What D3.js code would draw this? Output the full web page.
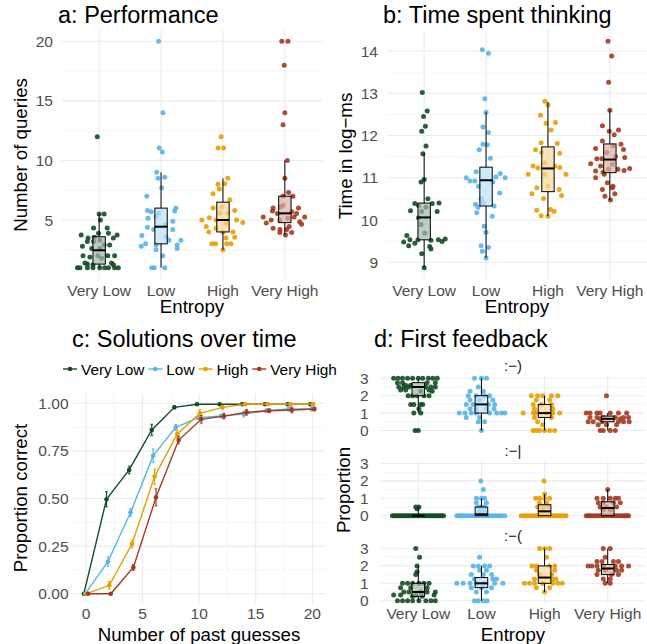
<!DOCTYPE html>
<html><head><meta charset="utf-8">
<script src="https://cdn.jsdelivr.net/npm/d3@7"></script>
<style>
body{margin:0;background:#fff}
text{font-family:"Liberation Sans",Arial,Helvetica,sans-serif}
</style>
</head><body>
<svg id="chart" width="647" height="644"></svg>
<script>
// ---------------- DATA ----------------
const categories = ["Very Low", "Low", "High", "Very High"];
const palette = ["#134D26", "#56B4E9", "#E69F00", "#A33A1F"];

// Panel a: number of queries  [value, jitter (category units)]
const queriesVeryLow = [[12,-0.03],[5.5,0],[5.5,0.08],[5,0.02],[4.33,-0.09],[4.33,0.13],[3.75,-0.29],[3.9,-0.01],[3.9,0.15],[3.5,0.23],[3.75,0.29],[3.5,-0.18],[3.55,-0.08],[3.2,-0.19],[3.2,-0.09],[3.3,0.01],[2.9,0.08],[2.9,0.17],[2.8,-0.27],[2.6,-0.12],[2.6,0.01],[2,-0.26],[2,-0.02],[2,0.14],[2,0.25],[1.9,-0.15],[1.8,0.04],[1.3,-0.19],[1.25,-0.1],[1.25,0.23],[1,-0.35],[1,-0.31],[1,-0.19],[1,-0.1],[1,0.01],[1,0.09],[1,0.15],[1,0.25],[1,0.31],[1.4,-0.23],[1.4,0.2]];
const queriesLow = [[20,-0.04],[14,0.03],[11.05,-0.03],[10.7,0.02],[9,-0.07],[8.6,0.06],[8.5,-0.05],[7.7,0.01],[7,-0.23],[5.7,-0.16],[5.6,-0.04],[5.75,0.22],[6,0.24],[5.15,-0.21],[5.3,-0.08],[4.4,-0.22],[4.2,-0.12],[4.6,0.07],[4.2,0.19],[3.7,-0.31],[3.3,0.13],[3.3,0.32],[2.9,-0.08],[3,-0.25],[2.8,-0.32],[2.9,0.26],[2.6,0.26],[2.5,-0.08],[2,0.03],[1,-0.15],[1,-0.11],[1,0.06],[4.9,0.19],[5.8,-0.22],[3.6,0.08]];
const queriesHigh = [[12,-0.03],[11.05,-0.08],[11.05,0.01],[8.5,0.08],[8.05,0.03],[8,-0.08],[7.6,-0.06],[7.2,-0.16],[6.7,0.11],[6,-0.16],[6.1,-0.02],[5.8,0.19],[5.6,-0.05],[5.6,0.08],[5,-0.34],[5.2,-0.22],[5,-0.11],[5,0.22],[4.8,0.32],[4.7,0.05],[4,-0.23],[4.3,-0.11],[4,0],[4,0.16],[4.45,-0.27],[3.5,0.05],[3.55,0.19],[3,-0.18],[3,-0.12],[3,0.06],[3,0.13],[2.5,0]];
const queriesVeryHigh = [[20,-0.05],[20,0.05],[18,-0.01],[14,0],[13,-0.03],[10,0.04],[8.5,0],[7,-0.03],[7.3,0.06],[7,0.13],[6,-0.19],[6.1,-0.07],[6,0.22],[5.25,-0.35],[5.75,-0.2],[5.55,-0.12],[5.7,0.11],[5.25,0.15],[5.25,0.32],[4.75,-0.3],[5,-0.22],[5,-0.08],[5.15,0.05],[4.85,0.24],[4.65,0.27],[4.3,-0.19],[4.2,-0.08],[4.2,0.03],[4.45,0.07],[3.95,-0.08],[3.95,0.11],[3.75,0.01],[5.55,0.19],[6.25,-0.03]];
// [lower whisker, q1, median, q3, upper whisker]
const queriesBoxes = [[1,1.3,2.46,3.6,5.5],[1,3,4.44,6,9],[2.5,4,5,6.5,8.5],[3.75,4.78,5.56,7,10]];

// Panel b: time in log-ms
const timeVeryLow = [[13.02,-0.03],[12.58,0.05],[12.45,-0.01],[12.22,0.02],[12.1,-0.04],[11.75,0.03],[11.57,-0.02],[10.96,0],[10.9,-0.05],[10.39,-0.15],[10.34,-0.09],[10.39,0.13],[10.4,0.24],[10.22,-0.22],[10.2,-0.04],[10.2,0.21],[10.05,-0.09],[9.89,-0.05],[9.69,0.01],[9.63,-0.28],[9.53,-0.23],[9.53,-0.1],[9.48,-0.33],[9.39,-0.25],[9.45,-0.15],[9.52,0.11],[9.53,0.23],[9.49,0.29],[9.55,0.34],[9.37,0.09],[9.31,0.11],[9.2,-0.04],[8.87,0],[10.5,0.06],[10.3,0.03]];
const timeLow = [[14.03,-0.06],[13.95,0.04],[12.87,-0.02],[12.55,0],[12.2,-0.05],[12.07,0.04],[11.79,-0.05],[11.78,0.02],[11.66,-0.11],[11.46,0.07],[11,-0.32],[10.92,-0.26],[11.14,-0.16],[10.8,-0.12],[10.92,-0.18],[11.1,0.23],[11.02,0.16],[11,0.31],[10.9,0.11],[10.5,-0.08],[10.4,-0.05],[10.37,-0.17],[10.3,-0.13],[10.33,0.13],[10.09,0.1],[10.64,0.22],[10.17,-0.15],[9.85,-0.03],[9.71,0],[9.39,-0.08],[9.35,0.04],[9.26,-0.06],[9.1,0]];
const timeHigh = [[12.81,-0.05],[12.72,0],[12.48,-0.12],[12.29,-0.03],[12.31,0.12],[12.13,0.05],[11.83,-0.11],[11.81,0.15],[11.66,-0.2],[11.58,0.19],[11.6,-0.1],[11.28,-0.24],[11.23,-0.16],[11.35,-0.05],[11.28,0.11],[11.24,0.19],[11.08,-0.32],[11.08,-0.05],[11.08,0.29],[10.76,-0.18],[10.8,0],[10.62,-0.26],[10.72,0.18],[10.58,0.22],[10.51,-0.07],[10.23,-0.18],[10.25,0.04],[10.2,0.1],[10.1,-0.11],[10.09,0]];
const timeVeryHigh = [[14.23,-0.03],[13.88,0.03],[13.26,-0.02],[12.6,0],[12.23,-0.12],[12.1,-0.01],[12.13,0.14],[12.02,0.07],[11.87,-0.12],[11.69,-0.23],[11.75,0.05],[11.79,0.18],[11.67,0.22],[11.6,-0.05],[11.5,0.09],[11.45,-0.21],[11.45,-0.13],[11.48,0.24],[11.33,-0.31],[11.28,-0.15],[11.32,0.04],[11.16,-0.23],[11.13,-0.11],[11.2,-0.02],[11.2,0.13],[11.17,0.23],[11.22,0.32],[11,-0.23],[11.08,-0.09],[10.88,-0.04],[10.8,0.05],[10.72,-0.12],[10.76,0.04],[10.56,-0.08],[10.62,0.08],[10.47,0.01]];
const timeBoxes = [[8.87,9.53,10.06,10.4,11.57],[9.1,10.33,10.94,11.25,12.55],[10.09,10.67,11.22,11.73,12.79],[10.47,11.12,11.43,11.8,12.6]];

// Panel c: proportion correct by number of past guesses
const guesses = [0,2,4,6,8,10,12,14,16,18,20];
const solvedVeryLow  = [0,0.496,0.65,0.86,0.979,0.995,0.995,0.995,0.995,0.995,0.995];
const solvedLow      = [0,0.168,0.426,0.725,0.874,0.925,0.933,0.944,0.961,0.97,0.97];
const solvedHigh     = [0,0.044,0.261,0.615,0.839,0.947,0.979,0.995,0.995,0.995,0.995];
const solvedVeryHigh = [0,0,0.138,0.506,0.807,0.916,0.933,0.953,0.961,0.965,0.97];
const seVeryLow  = [0,0.04,0.02,0.03,0.008,0.004,0.004,0.004,0.004,0.004,0.004];
const seLow      = [0,0.025,0.02,0.035,0.015,0.01,0.01,0.015,0.01,0.01,0.01];
const seHigh     = [0,0.02,0.02,0.04,0.02,0.02,0.01,0.005,0.005,0.005,0.005];
const seVeryHigh = [0,0,0.015,0.045,0.02,0.02,0.015,0.015,0.01,0.015,0.01];

// Panel d: first feedback  [value, [jitters]]
const facetLabels = [":\u2212)", ":\u2212|", ":\u2212("];
const happyVeryLow = [[3,[-0.39,-0.32,-0.25,-0.17,-0.09,0,0.07,0.16,0.23,0.3]],[2.75,[-0.33,-0.25,0.14,0.27]],[2.6,[-0.2,-0.12]],[2.5,[-0.31,-0.23,-0.15,0.12,0.2,0.27]],[2.33,[-0.28,-0.2,0.17]],[2.25,[0.04,0.22]],[2,[-0.16,-0.09,-0.02,0.09,0.17]],[1.5,[-0.12,-0.07,0.04,0.07]],[1.25,[0.01]],[1,[-0.07,0.04]],[0,[-0.05,0]]];
const happyLow = [[3,[-0.11,0,0.08]],[2.5,[-0.05]],[2.25,[-0.18,0.03]],[2,[-0.21,-0.08,0.05,0.13]],[1.75,[-0.18,-0.03,0.18]],[1.5,[-0.24,-0.13,0.11,0.21]],[1.25,[-0.18,-0.08,0.08,0.2]],[1,[-0.35,-0.26,-0.16,-0.08,0.13,0.24,0.32,0.37]],[0.75,[-0.24,-0.03]],[0.5,[-0.05,0.05]],[0,[0]]];
const happyHigh = [[2,[-0.21,-0.11,-0.03,0.11,0.21]],[1.75,[-0.13,0.08]],[1.5,[-0.18,-0.05,0.11]],[1.25,[-0.16,0.13]],[1,[-0.34,-0.18,-0.13,0.03,0.13,0.24]],[0.75,[-0.16,0.11]],[0.5,[-0.11]],[0.33,[-0.03]],[0,[-0.18,-0.13,-0.08,0,0.08,0.16]]];
const happyVeryHigh = [[2,[-0.02]],[1,[-0.34,-0.28,-0.17,-0.12,0.04,0.17,0.3]],[0.75,[-0.28,-0.17,-0.07,0.12,0.25,0.33]],[0.67,[-0.12,0.2]],[0.5,[-0.31,-0.23,-0.09,0.17,0.25,0.34]],[0.33,[-0.15,-0.02,0.14]],[0,[-0.12,-0.07,0.04,0.12]]];
const neutralVeryLow = [[0.5,[-0.04,0.01]],[0.4,[-0.02]],[0,[-0.41,-0.38,-0.35,-0.32,-0.29,-0.26,-0.23,-0.2,-0.17,-0.14,-0.11,-0.08,-0.05,-0.02,0.01,0.04,0.07,0.1,0.13,0.16,0.19,0.22,0.25,0.28,0.31,0.34,0.37,0.4]]];
const neutralLow = [[2,[-0.01]],[1.5,[0.03]],[1,[-0.08,0,0.05]],[0.75,[-0.08,0.08]],[0.5,[-0.05,0,0.05]],[0.25,[-0.03,0.05]],[0,[-0.39,-0.35,-0.32,-0.28,-0.24,-0.2,-0.16,-0.12,-0.08,-0.04,0,0.04,0.08,0.12,0.16,0.2,0.24,0.28,0.32,0.37]]];
const neutralHigh = [[2,[-0.01]],[1.25,[0]],[1,[-0.14,-0.08,0,0.08]],[0.75,[-0.08,0.03]],[0.5,[-0.11,-0.03,0.05]],[0.33,[-0.03]],[0,[-0.37,-0.33,-0.29,-0.25,-0.21,-0.17,-0.13,-0.09,-0.05,-0.01,0.03,0.07,0.11,0.15,0.18,0.22,0.26,0.3,0.34]]];
const neutralVeryHigh = [[1.5,[0]],[1,[-0.17,-0.07,0.04,0.12,0.17]],[0.75,[-0.15,-0.07,0.09,0.2]],[0.5,[-0.12,-0.02,0.14]],[0.33,[-0.07,0.04]],[0,[-0.34,-0.31,-0.28,-0.24,-0.2,-0.16,-0.12,-0.08,-0.04,0,0.04,0.08,0.12,0.16,0.2,0.24,0.27,0.3,0.33]]];
const sadVeryLow = [[3,[-0.04]],[2.5,[0.02]],[2,[-0.02]],[1.67,[-0.02]],[1.5,[-0.04]],[1,[-0.25,-0.17,-0.09,0.01,0.09,0.17]],[0.75,[-0.28,-0.12,0.14]],[0.5,[-0.23,-0.15,0.04,0.14,0.27]],[0.33,[-0.39,-0.28,-0.04,0.25]],[0.25,[-0.09,0.06]],[0,[-0.33,-0.25,-0.17,-0.09,0.01,0.12,0.2,0.27]]];
const sadLow = [[2.5,[-0.03]],[2,[-0.13,-0.05,0.05,0.13]],[1.75,[-0.03,0.08]],[1.5,[-0.16,0.03,0.16]],[1.25,[-0.11,0.18,0.24]],[1,[-0.39,-0.29,-0.18,-0.08,0.05,0.21,0.34]],[0.75,[-0.16,0,0.16]],[0.5,[-0.08,0.08]],[0,[-0.11,-0.05,0.03,0.09]]];
const sadHigh = [[3,[-0.08,0,0.08]],[2.5,[0.03]],[2,[-0.2,-0.13,0.08,0.16]],[1.75,[-0.13,0.16]],[1.5,[-0.08,0.11]],[1.25,[-0.16,0.13,0.18]],[1,[-0.32,-0.24,-0.16,-0.03,0.13,0.21,0.28]],[0.75,[-0.13,0.08]],[0.5,[0]]];
const sadVeryHigh = [[3,[-0.07,0.04]],[2.5,[-0.04]],[2.25,[-0.17,-0.09,0.09,0.17]],[2,[-0.31,-0.25,-0.17,-0.07,0.12,0.22,0.33]],[1.75,[-0.15,-0.04,0.14,0.22]],[1.5,[-0.17,0.06,0.17]],[1.25,[-0.07,0.04]],[1,[-0.04,0.04]]];
const happyBoxes   = [[1,2,2.5,2.75,3],[0,1,1.5,2,3],[0,0.75,1,1.5,2],[0,0.5,0.67,0.83,1]];
const neutralBoxes = [[0,0,0,0,0.5],[0,0,0.08,0.5,1],[0,0,0.25,0.63,1.25],[0,0,0.44,0.8,1.5]];
const sadBoxes     = [[0,0.25,0.5,1,2],[0,0.75,1,1.33,2],[0.5,1,1.33,2,3],[1,1.5,1.85,2.08,3]];

// ---------------- DRAWING ----------------
const svg = d3.select("#chart");
const TICK_COL = "#4D4D4D";
const TICK_FS = 15.5, AXIS_FS = 18.7, TITLE_FS = 23.5;
const flatLevels = levels => levels.flatMap(([v, js]) => js.map(j => [v, j]));

function hGrid(g, y, left, right, major, minor) {
  g.selectAll(null).data(minor).join("line")
    .attr("x1", left).attr("x2", right).attr("y1", d => y(d)).attr("y2", d => y(d))
    .attr("stroke", "#F1F1F1").attr("stroke-width", 0.7);
  g.selectAll(null).data(major).join("line")
    .attr("x1", left).attr("x2", right).attr("y1", d => y(d)).attr("y2", d => y(d))
    .attr("stroke", "#EBEBEB").attr("stroke-width", 1.1);
}
function vGrid(g, xs, top, bottom, col, w) {
  g.selectAll(null).data(xs).join("line")
    .attr("x1", d => d).attr("x2", d => d).attr("y1", top).attr("y2", bottom)
    .attr("stroke", col).attr("stroke-width", w);
}
function yLabels(g, y, ticks, xRight, fmt) {
  g.selectAll(null).data(ticks).join("text")
    .attr("x", xRight).attr("y", d => y(d)).attr("dy", "0.36em")
    .attr("text-anchor", "end").attr("font-size", TICK_FS).attr("fill", TICK_COL)
    .text(fmt);
}
function title(txt, x, y) {
  svg.append("text").attr("x", x).attr("y", y).attr("font-size", TITLE_FS).attr("fill", "#000").text(txt);
}
function axisTitleX(txt, x, y) {
  svg.append("text").attr("x", x).attr("y", y).attr("text-anchor", "middle").attr("font-size", AXIS_FS).text(txt);
}
function axisTitleY(txt, x, y) {
  svg.append("text").attr("transform", `translate(${x},${y}) rotate(-90)`)
    .attr("text-anchor", "middle").attr("font-size", AXIS_FS).text(txt);
}

function categoryPanel(o) {
  const g = svg.append("g");
  const x = d3.scalePoint().domain(categories).range([o.left, o.right]).padding(0.6);
  const y = d3.scaleLinear().domain(o.yDomain).range([o.bottom, o.top]);
  hGrid(g, y, o.left, o.right, o.yTicks, o.yMinor);
  vGrid(g, categories.map(c => x(c)), o.top, o.bottom, "#EBEBEB", 1.1);
  yLabels(g, y, o.yTicks, o.yLabelX, o.fmt);
  if (o.xLabels) {
    g.selectAll(null).data(categories).join("text")
      .attr("x", d => x(d)).attr("y", o.bottom + o.xLabelGap).attr("text-anchor", "middle")
      .attr("font-size", TICK_FS).attr("fill", TICK_COL).text(d => d);
  }
  const step = x.step();
  categories.forEach((c, i) => {
    g.append("g").selectAll("circle").data(o.points[i]).join("circle")
      .attr("cx", d => x(c) + d[1] * step).attr("cy", d => y(d[0])).attr("r", 2.5)
      .attr("fill", palette[i]).attr("fill-opacity", 0.9);
  });
  const bw = 0.2 * step;
  categories.forEach((c, i) => {
    const [lo, q1, med, q3, hi] = o.boxes[i];
    const cx = x(c);
    const bg = g.append("g");
    bg.append("line").attr("x1", cx).attr("x2", cx).attr("y1", y(hi)).attr("y2", y(q3)).attr("stroke", "#000").attr("stroke-width", 1);
    bg.append("line").attr("x1", cx).attr("x2", cx).attr("y1", y(q1)).attr("y2", y(lo)).attr("stroke", "#000").attr("stroke-width", 1);
    bg.append("rect").attr("x", cx - bw / 2).attr("width", bw)
      .attr("y", y(q3)).attr("height", Math.max(0, y(q1) - y(q3)))
      .attr("fill", d3.interpolateRgb(palette[i], "#ffffff")(0.6)).attr("fill-opacity", 0.7)
      .attr("stroke", "#000").attr("stroke-width", 1);
    bg.append("line").attr("x1", cx - bw / 2).attr("x2", cx + bw / 2).attr("y1", y(med)).attr("y2", y(med))
      .attr("stroke", "#000").attr("stroke-width", 2);
  });
  return { x, y };
}

// ---- Panel a ----
title("a: Performance", 58, 23);
categoryPanel({
  left: 62, right: 322, top: 30, bottom: 279,
  yDomain: [0.05, 20.95], yTicks: [5, 10, 15, 20], yMinor: [2.5, 7.5, 12.5, 17.5],
  yLabelX: 53, fmt: d => d, xLabels: true, xLabelGap: 17,
  points: [queriesVeryLow, queriesLow, queriesHigh, queriesVeryHigh],
  boxes: queriesBoxes
});
axisTitleY("Number of queries", 27, 155);
axisTitleX("Entropy", 192, 313);

// ---- Panel b ----
title("b: Time spent thinking", 383, 23);
categoryPanel({
  left: 387, right: 647, top: 30, bottom: 279,
  yDomain: [8.602, 14.498], yTicks: [9, 10, 11, 12, 13, 14], yMinor: [9.5, 10.5, 11.5, 12.5, 13.5],
  yLabelX: 378, fmt: d => d, xLabels: true, xLabelGap: 17,
  points: [timeVeryLow, timeLow, timeHigh, timeVeryHigh],
  boxes: timeBoxes
});
axisTitleY("Time in log\u2212ms", 352, 156);
axisTitleX("Entropy", 517, 313);

// ---- Panel c ----
title("c: Solutions over time", 72, 347);
(function () {
  const left = 72.4, right = 325.9, top = 393.8, bottom = 603.2;
  const g = svg.append("g");
  const x = d3.scaleLinear().domain([-1.2, 21.2]).range([left, right]);
  const y = d3.scaleLinear().domain([-0.05, 1.05]).range([bottom, top]);
  hGrid(g, y, left, right, [0, 0.25, 0.5, 0.75, 1], [0.125, 0.375, 0.625, 0.875]);
  vGrid(g, [2.5, 7.5, 12.5, 17.5].map(x), top, bottom, "#F1F1F1", 0.7);
  vGrid(g, [0, 5, 10, 15, 20].map(x), top, bottom, "#EBEBEB", 1.1);
  yLabels(g, y, [0, 0.25, 0.5, 0.75, 1], 68.5, d3.format(".2f"));
  g.selectAll(null).data([0, 5, 10, 15, 20]).join("text")
    .attr("x", d => x(d)).attr("y", bottom + 15.5).attr("text-anchor", "middle")
    .attr("font-size", TICK_FS).attr("fill", TICK_COL).text(d => d);
  const series = [solvedVeryLow, solvedLow, solvedHigh, solvedVeryHigh];
  const ses = [seVeryLow, seLow, seHigh, seVeryHigh];
  const dodge = d3.scalePoint().domain(categories).range([-0.1875, 0.1875]);
  series.forEach((vals, i) => {
    const off = dodge(categories[i]);
    const pts = guesses.map((gx, k) => ({ gx: gx + off, v: vals[k], se: ses[i][k] }));
    const sg = g.append("g");
    sg.append("path").datum(pts)
      .attr("d", d3.line().x(d => x(d.gx)).y(d => y(d.v)))
      .attr("fill", "none").attr("stroke", palette[i]).attr("stroke-width", 1.4);
    sg.selectAll("line.eb").data(pts).join("line")
      .attr("x1", d => x(d.gx)).attr("x2", d => x(d.gx))
      .attr("y1", d => y(d.v - d.se)).attr("y2", d => y(d.v + d.se))
      .attr("stroke", palette[i]).attr("stroke-width", 1.2);
    [-1, 1].forEach(s => {
      sg.selectAll(null).data(pts).join("line")
        .attr("x1", d => x(d.gx - 0.12)).attr("x2", d => x(d.gx + 0.12))
        .attr("y1", d => y(d.v + s * d.se)).attr("y2", d => y(d.v + s * d.se))
        .attr("stroke", palette[i]).attr("stroke-width", 1);
    });
    sg.selectAll("circle").data(pts).join("circle")
      .attr("cx", d => x(d.gx)).attr("cy", d => y(d.v)).attr("r", 2.3)
      .attr("fill", palette[i]);
  });
  // legend
  const lg = svg.append("g");
  let lx = 63;
  const ly = 369;
  categories.forEach((c, i) => {
    lg.append("line").attr("x1", lx).attr("x2", lx + 14).attr("y1", ly).attr("y2", ly)
      .attr("stroke", palette[i]).attr("stroke-width", 1.4);
    lg.append("circle").attr("cx", lx + 7).attr("cy", ly).attr("r", 2.3).attr("fill", palette[i]);
    const t = lg.append("text").attr("x", lx + 18).attr("y", ly).attr("dy", "0.36em")
      .attr("font-size", 15.4).attr("fill", "#000").text(c);
    lx += 18 + t.node().getComputedTextLength() + 4;
  });
})();
axisTitleY("Proportion correct", 27, 498);
axisTitleX("Number of past guesses", 199, 640.5);

// ---- Panel d ----
title("d: First feedback", 374, 347);
const facetData = [
  [happyVeryLow, happyLow, happyHigh, happyVeryHigh],
  [neutralVeryLow, neutralLow, neutralHigh, neutralVeryHigh],
  [sadVeryLow, sadLow, sadHigh, sadVeryHigh]
];
const facetBoxes = [happyBoxes, neutralBoxes, sadBoxes];
const facetTops = [375.7, 460.9, 545.9];
facetTops.forEach((top, f) => {
  const bottom = top + 57.4;
  categoryPanel({
    left: 380.4, right: 645.6, top, bottom,
    yDomain: [-0.15, 3.15], yTicks: [0, 1, 2, 3], yMinor: [0.5, 1.5, 2.5],
    yLabelX: 368.5, fmt: d => d, xLabels: f === 2, xLabelGap: 15.5,
    points: facetData[f].map(flatLevels),
    boxes: facetBoxes[f]
  });
  svg.append("text").attr("x", 513).attr("y", top - 5).attr("text-anchor", "middle")
    .attr("font-size", 15).attr("fill", "#1A1A1A").text(facetLabels[f]);
});
axisTitleY("Proportion", 350, 490);
axisTitleX("Entropy", 513, 640.5);
</script>
</body></html>
